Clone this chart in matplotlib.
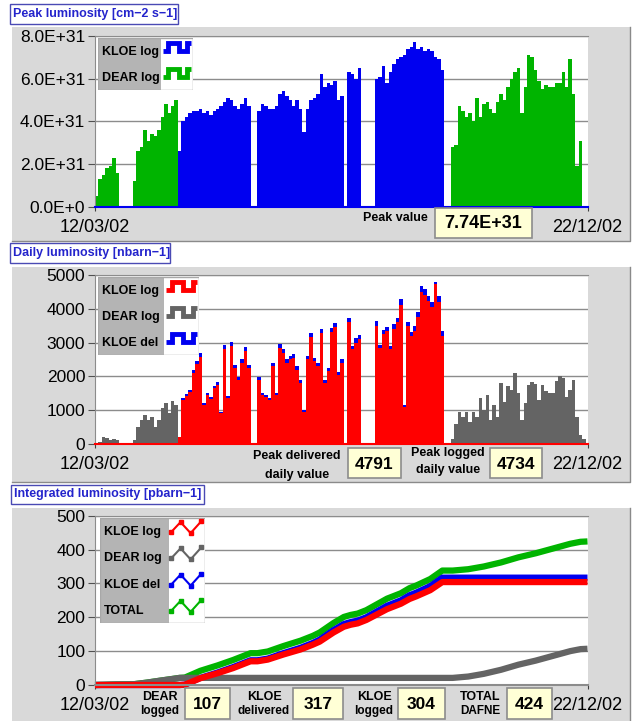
import numpy as np
import matplotlib.pyplot as plt
from matplotlib.patches import Rectangle
from matplotlib.lines import Line2D

plt.rcParams['font.family'] = ['Liberation Sans', 'DejaVu Sans']

# ---- data (one value per 2-day bin, starting 12/03/02) ----
date_labels = ['12/03/02', '22/12/02']
n_days = 285

# peak luminosity, units of 1E31 cm-2 s-1
peak_kloe = [0] * 24 + [
    2.6, 4.0, 4.2, 4.4, 4.5, 4.5,
    4.6, 4.4, 4.5, 4.3, 4.5, 4.6, 4.7, 4.9, 5.1, 5.0,
    4.7, 4.6, 4.8, 5.1, 4.7, 0, 0, 4.5, 4.8, 4.7,
    4.6, 4.6, 4.7, 5.3, 5.4, 5.2, 5.0, 4.7, 5.0, 4.6,
    3.5, 4.6, 5.0, 5.1, 5.3, 6.2, 5.6, 5.8, 5.7, 5.9,
    5.0, 5.2, 0, 6.3, 6.2, 6.0, 6.5, 0, 0, 0,
    0, 6.0, 6.1, 6.6, 5.8, 6.3, 6.7, 6.9, 7.0, 7.1,
    7.4, 7.5, 7.74, 7.4, 7.5, 7.3, 7.4, 7.3, 7.0, 6.9,
    6.4] + [0] * 42
peak_dear = [
    0.5, 1.3, 1.5, 1.8, 1.9, 2.3, 1.6, 0, 0, 0,
    0, 1.2, 2.6, 2.8, 3.6, 3.1, 3.4, 3.3, 3.6, 4.2,
    4.8, 4.4, 4.7, 5.0] + [0] * 79 + [
    2.8, 2.9, 4.7, 4.5, 4.2, 4.4, 4.0,
    5.1, 4.2, 4.8, 4.9, 4.6, 4.4, 4.9, 5.3, 5.0, 5.6,
    6.0, 6.3, 6.5, 4.4, 5.6, 7.1, 7.0, 6.4, 5.9, 5.5,
    5.7, 5.6, 5.6, 5.8, 5.8, 6.3, 5.6, 6.9, 5.3, 1.9,
    3.1, 0, 0]

# daily luminosity, nbarn-1
daily_kloe_log = [0] * 24 + [
    200, 1300, 1420, 1520, 2100, 2350,
    2570, 1150, 1450, 1320, 1650, 1750, 900, 2800, 1350, 2900,
    2250, 1900, 2400, 2750, 2250, 0, 0, 1900, 1450, 1400,
    1300, 2300, 1450, 2850, 2700, 2400, 2500, 2550, 2200, 1800,
    950, 2500, 3150, 2450, 2300, 3280, 1800, 2150, 3300, 3450,
    2050, 2400, 0, 3600, 2800, 3000, 3100, 0, 0, 0,
    0, 3500, 2830, 3250, 3330, 2800, 3400, 3600, 4120, 1100,
    3480, 3180, 3350, 3750, 4500, 4400, 4220, 4050, 4734, 4200,
    3200] + [0] * 42
daily_kloe_del = [0] * 24 + [
    210, 1360, 1480, 1580, 2190, 2450,
    2680, 1200, 1510, 1380, 1720, 1820, 940, 2920, 1410, 3020,
    2340, 1980, 2500, 2860, 2340, 0, 0, 1980, 1510, 1460,
    1350, 2400, 1510, 2960, 2810, 2500, 2600, 2650, 2290, 1880,
    990, 2600, 3280, 2550, 2400, 3410, 1880, 2240, 3430, 3590,
    2130, 2500, 0, 3740, 2910, 3120, 3220, 0, 0, 0,
    0, 3640, 2940, 3380, 3460, 2910, 3540, 3740, 4280, 1150,
    3620, 3310, 3480, 3900, 4680, 4580, 4390, 4210, 4791, 4370,
    3330] + [0] * 42
daily_dear = [
    30, 60, 200, 180, 120, 150, 100, 0, 0, 0,
    0, 110, 500, 700, 850, 700, 780, 500, 700, 1050,
    1200, 900, 1280, 1150] + [0] * 79 + [
    150, 600, 950, 800, 950, 650, 950,
    800, 1350, 1000, 1450, 700, 1150, 800, 1800, 1250, 1700,
    1600, 2100, 1500, 700, 1200, 1750, 1820, 1780, 1300, 1750,
    1550, 1500, 1500, 1850, 2000, 1950, 1400, 1600, 1900, 800,
    250, 150, 0]

# integrated luminosity, pbarn-1
int_days = [0, 5, 12, 22, 30, 38, 45, 49, 52, 61,
            71, 80, 90, 94, 100, 109, 119, 126, 130, 138,
            144, 148, 152, 157, 163, 169, 177, 182, 186, 194,
            201, 207, 216, 225, 235, 245, 255, 265, 275, 281,
            285]
int_kloe_log = [0, 0, 0, 0, 0, 0, 0, 0, 1, 20,
                35, 50, 70, 70, 75, 90, 105, 119, 128, 155,
                172, 178, 182, 192, 208, 224, 240, 254, 262, 280,
                304, 304, 304, 304, 304, 304, 304, 304, 304, 304,
                304]
int_kloe_del = [0, 0, 0, 0, 0, 0, 0, 0, 1, 21,
                37, 53, 73, 73, 78, 94, 110, 124, 134, 162,
                180, 186, 190, 200, 217, 234, 250, 265, 273, 292,
                317, 317, 317, 317, 317, 317, 317, 317, 317, 317,
                317]
int_dear = [0, 0.5, 1.5, 2, 7, 13, 18, 21, 21, 21,
            21, 21, 21, 21, 21, 21, 21, 21, 21, 21,
            21, 21, 21, 21, 21, 21, 21, 21, 21, 21,
            21, 21, 25, 33, 45, 60, 72, 86, 100, 106,
            107]
int_total = [0, 0.5, 1.5, 2, 7, 13, 18, 21, 22, 42,
             58, 74, 94, 94, 99, 115, 131, 145, 155, 183,
             201, 207, 211, 221, 238, 255, 271, 286, 294, 313,
             338, 338, 342, 350, 362, 377, 389, 403, 417, 423,
             424]

BLUE = '#0000f0'
GREEN = '#00b400'
RED = '#ff0000'
DGRAY = '#646464'
PANEL = '#d9d9d9'
W, H = 635, 721

fig = plt.figure(figsize=(W / 100, H / 100), dpi=100)


def fx(px):
    return px / W


def fy(py):
    return 1 - py / H


def rect_px(x0, y0, x1, y1, **kw):
    r = Rectangle((fx(x0), fy(y1)), (x1 - x0) / W, (y1 - y0) / H,
                  transform=fig.transFigure, **kw)
    fig.add_artist(r)


# panel backgrounds
for y0, y1 in [(27, 241), (267, 482), (508, 722)]:
    rect_px(12, y0, 630, y1, fc=PANEL, ec='none', zorder=0)
    fig.add_artist(Line2D([fx(12), fx(630), fx(630)], [fy(y1), fy(y1), fy(y0)],
                          color='#8a8a8a', lw=1, transform=fig.transFigure))

# title boxes
titles = [('Peak luminosity [cm−2 s−1]', 10, 4, 178, 24),
          ('Daily luminosity [nbarn−1]', 10, 243, 170, 263),
          ('Integrated luminosity [pbarn−1]', 11, 485, 204, 504)]
for txt, x0, y0, x1, y1 in titles:
    rect_px(x0, y0, x1, y1, fc='white', ec='#4a4ab4', lw=1)
    fig.text(fx(x0 + 3), fy((y0 + y1) / 2), txt, color='#2424cc', fontsize=9,
             fontweight='bold', va='center', ha='left')


def make_axes(top, bottom, ymax, ystep, ylabels, base_color):
    ax = fig.add_axes([fx(95), fy(bottom), (587.5 - 95) / W, (bottom - top) / H])
    ax.set_xlim(0, n_days)
    ax.set_ylim(0, ymax)
    ax.set_yticks(np.arange(0, ymax + ystep / 2, ystep))
    ax.set_yticklabels(ylabels)
    ax.set_xticks([0, n_days])
    ax.set_xticklabels(date_labels)
    ax.tick_params(axis='x', length=3, pad=6, color='#404040', labelsize=13)
    ax.tick_params(axis='y', length=5, pad=2, color='#505050', labelsize=12.5)
    ax.yaxis.grid(True, color='#8c8c8c', lw=1)
    ax.set_axisbelow(True)
    ax.spines['right'].set_visible(False)
    ax.spines['left'].set_color('#8c8c8c')
    ax.spines['top'].set_color('#8c8c8c')
    ax.spines['bottom'].set_color(base_color)
    ax.spines['bottom'].set_linewidth(1.5)
    return ax


edges = np.arange(0, 2 * len(peak_kloe) + 1, 2)

# panel 1: peak luminosity
ax1 = make_axes(36, 206.7, 8, 2,
                ['0.0E+0', '2.0E+31', '4.0E+31', '6.0E+31', '8.0E+31'], BLUE)
ax1.stairs(peak_dear, edges, fill=True, color=GREEN, lw=0)
ax1.stairs(peak_kloe, edges, fill=True, color=BLUE, lw=0)

# panel 2: daily luminosity
ax2 = make_axes(275, 443.8, 5000, 1000,
                ['0', '1000', '2000', '3000', '4000', '5000'], RED)
ax2.stairs(daily_kloe_del, edges, fill=True, color=BLUE, lw=0)
ax2.stairs(daily_kloe_log, edges, fill=True, color=RED, lw=0)
ax2.stairs(daily_dear, edges, fill=True, color=DGRAY, lw=0)

# panel 3: integrated luminosity
ax3 = make_axes(515.7, 685, 500, 100,
                ['0', '100', '200', '300', '400', '500'], '#8c8c8c')
ax3.plot(int_days, int_total, color=GREEN, lw=4.5, clip_on=False, solid_capstyle='butt')
ax3.plot(int_days, int_kloe_del, color=BLUE, lw=4.5, clip_on=False, solid_capstyle='butt')
ax3.plot(int_days, int_dear, color=DGRAY, lw=4.5, clip_on=False, solid_capstyle='butt')
ax3.plot(int_days, int_kloe_log, color=RED, lw=4.5, clip_on=False, solid_capstyle='butt')


# legends
def legend_px(x0, y0, xs, x1, y1, labels, colors, zigzag=False):
    lax = fig.add_axes([fx(x0), fy(y1), (x1 - x0) / W, (y1 - y0) / H])
    lax.set_xlim(0, x1 - x0)
    lax.set_ylim(y1 - y0, 0)
    lax.axis('off')
    lax.add_patch(Rectangle((0, 0), xs - x0, y1 - y0, fc='#b4b4b4', ec='none'))
    lax.add_patch(Rectangle((xs - x0, 0), x1 - xs, y1 - y0, fc='white', ec='none'))
    lax.add_patch(Rectangle((0, 0), x1 - x0, y1 - y0, fc='none', ec='#a8a8a8', lw=1))
    h = (y1 - y0) / len(labels)
    sw = x1 - xs
    a = xs - x0
    for i, (lab, c) in enumerate(zip(labels, colors)):
        yc = (i + 0.5) * h
        lax.text(4, yc + 1, lab, fontsize=9, fontweight='bold', va='center', ha='left')
        if zigzag:
            xx = [a + 0.06 * sw, a + 0.32 * sw, a + 0.6 * sw, a + 0.9 * sw]
            yy = [yc + 1, yc - 9, yc + 2, yc - 10]
            lax.plot(xx, yy, color=c, lw=1.5, marker='s', ms=3, mec=c, mfc=c)
        else:
            xx = [a + 2, a + 0.22 * sw, a + 0.55 * sw, a + 0.82 * sw, a + sw - 2]
            yy = [yc, yc - 8, yc, yc - 8, yc - 8]
            lax.plot(xx, yy, color=c, lw=3.5, drawstyle='steps-post',
                     solid_joinstyle='miter', solid_capstyle='butt')


legend_px(98, 38, 161, 193, 90, ['KLOE log', 'DEAR log'], [BLUE, GREEN])
legend_px(98, 277, 164, 199, 355, ['KLOE log', 'DEAR log', 'KLOE del'],
          [RED, DGRAY, BLUE])
legend_px(100, 518, 169, 205, 623, ['KLOE log', 'DEAR log', 'KLOE del', 'TOTAL'],
          [RED, DGRAY, BLUE, GREEN], zigzag=True)


# value boxes and captions
def value_box(x0, y0, x1, y1, txt, size=12.5):
    rect_px(x0, y0, x1, y1, fc='#ffffd6', ec='#8c8c8c', lw=1.2)
    fig.text(fx((x0 + x1) / 2), fy((y0 + y1) / 2 + 1), txt, fontsize=size,
             fontweight='bold', ha='center', va='center')


def caption(xc, yc, txt, size=9):
    fig.text(fx(xc), fy(yc), txt, fontsize=size, fontweight='bold',
             ha='center', va='center')


caption(395, 218, 'Peak value')
value_box(435, 208, 532, 238, '7.74E+31', 13)

caption(297, 456, 'Peak delivered')
caption(297, 475, 'daily value')
value_box(348, 448, 401, 478, '4791')
caption(448, 453, 'Peak logged')
caption(448, 470, 'daily value')
value_box(490, 448, 542, 478, '4734')

for xc, l1, l2, (x0, x1), val in [(160, 'DEAR', 'logged', (185, 230), '107'),
                                  (264, 'KLOE', 'delivered', (293, 343), '317'),
                                  (374, 'KLOE', 'logged', (398, 445), '304'),
                                  (480, 'TOTAL', 'DAFNE', (507, 552), '424')]:
    caption(xc, 697, l1)
    caption(xc, 711, l2, 8.5)
    value_box(x0, 688, x1, 719, val)

fig.savefig('out.png', dpi=100, facecolor='white')
